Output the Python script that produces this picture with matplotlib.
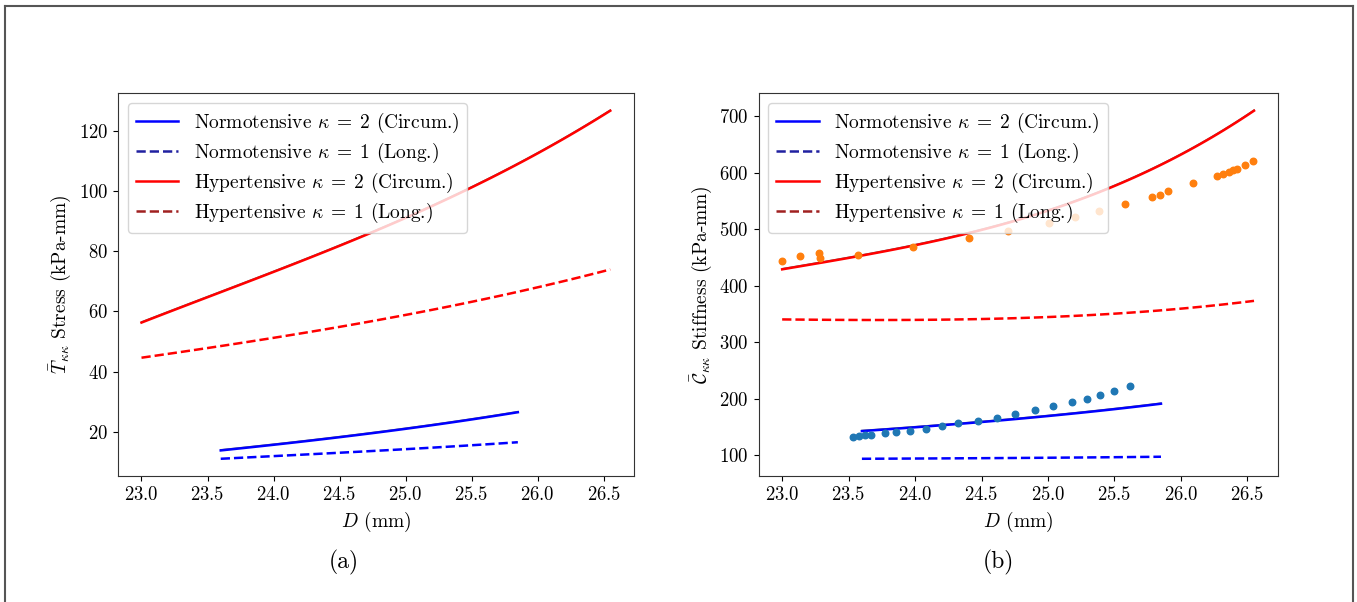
import numpy as np
import matplotlib
matplotlib.use("Agg")
from matplotlib import pyplot as plt
from matplotlib.lines import Line2D
import matplotlib.transforms as mtransforms

plt.rcParams['font.family'] = 'serif'
plt.rcParams['font.serif'] = ['cmr10', 'DejaVu Serif']
plt.rcParams['mathtext.fontset'] = 'cm'
plt.rcParams['axes.formatter.use_mathtext'] = True

# --- (a) stress curves ---
D_normo = [23.6, 24.0, 24.5, 25.0, 25.5, 25.85]
T_normo_circ = [13.8, 15.6, 18.2, 21.0, 24.0, 26.5]
T_normo_long = [11.0, 11.9, 13.0, 14.2, 15.5, 16.5]

D_hyper = [23.0, 23.5, 24.0, 24.5, 25.0, 25.5, 26.0, 26.55]
T_hyper_circ = [56.0, 65.3, 72.8, 81.8, 90.9, 100.8, 113.2, 126.4]
T_hyper_long = [44.4, 48.2, 51.2, 54.5, 58.8, 63.2, 68.2, 73.8]

# --- (b) stiffness curves ---
C_normo_circ = [142.6, 148.6, 159.0, 169.0, 181.0, 191.0]
C_normo_long = [93.4, 93.8, 94.5, 95.2, 96.2, 97.0]
C_hyper_circ = [429.6, 447.0, 473.0, 497.0, 536.0, 574.0, 632.0, 710.0]
C_hyper_long = [340.0, 339.5, 339.5, 340.5, 344.0, 351.0, 359.0, 373.0]

# --- (b) scattered data points ---
D_pts_hyper = [23.0, 23.136, 23.278, 23.285, 23.57, 23.983, 24.404, 24.70, 25.01,
               25.2, 25.38, 25.58, 25.78, 25.84, 25.90, 26.09, 26.27, 26.32,
               26.36, 26.39, 26.42, 26.48, 26.54]
C_pts_hyper = [443.8, 453.3, 457.4, 449.1, 455.0, 468.0, 484.0, 496.0, 510.7,
               521.0, 532.0, 545.0, 557.4, 561.0, 566.9, 581.7, 594.0, 597.0,
               600.6, 604.0, 606.0, 614.0, 620.0]
D_pts_normo = [23.53, 23.58, 23.626, 23.67, 23.77, 23.86, 23.96, 24.08, 24.20,
               24.32, 24.47, 24.62, 24.75, 24.90, 25.04, 25.18, 25.29, 25.39,
               25.50, 25.62]
C_pts_normo = [132.0, 133.0, 135.0, 135.0, 139.6, 140.8, 142.6, 146.8, 152.0,
               156.0, 161.0, 166.0, 172.0, 179.3, 186.4, 194.0, 199.4, 206.5,
               213.6, 223.0]

labels = [r'Normotensive $\kappa\;=\;2$ (Circum.)',
          r'Normotensive $\kappa\;=\;1$ (Long.)',
          r'Hypertensive $\kappa\;=\;2$ (Circum.)',
          r'Hypertensive $\kappa\;=\;1$ (Long.)']


def smooth(x, y, n=80):
    # cubic through the read-off points, just for a clean curve
    p = np.polyfit(x, y, 3)
    xs = np.linspace(x[0], x[-1], n)
    return xs, np.polyval(p, xs)


def draw_curve(ax, fig, x, y, color, ls):
    xs, ys = smooth(x, y)
    if ls == '-':
        # thin dark edge on top of the coloured line, like the scanned original
        shift = mtransforms.offset_copy(ax.transData, fig=fig, x=0, y=0.5, units='points')
        ax.plot(xs, ys, color='k', ls=ls, lw=1.0, alpha=0.6, transform=shift)
    ax.plot(xs, ys, color=color, ls=ls, lw=1.8)


fig = plt.figure(figsize=(13.57, 6.02), dpi=100)
ax1 = fig.add_axes([0.087, 0.209, 0.380, 0.636])
ax2 = fig.add_axes([0.559, 0.209, 0.3825, 0.636])

draw_curve(ax1, fig, D_normo, T_normo_circ, 'blue', '-')
draw_curve(ax1, fig, D_normo, T_normo_long, 'blue', '--')
draw_curve(ax1, fig, D_hyper, T_hyper_circ, 'red', '-')
draw_curve(ax1, fig, D_hyper, T_hyper_long, 'red', '--')

draw_curve(ax2, fig, D_normo, C_normo_circ, 'blue', '-')
draw_curve(ax2, fig, D_normo, C_normo_long, 'blue', '--')
draw_curve(ax2, fig, D_hyper, C_hyper_circ, 'red', '-')
draw_curve(ax2, fig, D_hyper, C_hyper_long, 'red', '--')
ax2.scatter(D_pts_normo, C_pts_normo, s=22, color='#1f77b4', zorder=3)
ax2.scatter(D_pts_hyper, C_pts_hyper, s=22, color='#ff7f0e', zorder=3)

handles = [Line2D([], [], color='blue', ls='-', lw=1.8),
           Line2D([], [], color='#2020a0', ls='--', lw=1.8),
           Line2D([], [], color='red', ls='-', lw=1.8),
           Line2D([], [], color='#a02020', ls='--', lw=1.8)]

for ax, ylab in [(ax1, r'$\bar{T}_{\kappa\kappa}$ Stress (kPa-mm)'),
                 (ax2, r'$\bar{\mathcal{C}}_{\kappa\kappa}$ Stiffness (kPa-mm)')]:
    ax.set_xticks([23.0, 23.5, 24.0, 24.5, 25.0, 25.5, 26.0, 26.5])
    ax.tick_params(labelsize=13.5)
    ax.set_xlabel(r'$D$ (mm)', fontsize=14)
    ax.set_ylabel(ylab, fontsize=14)
    ax.legend(handles, labels, loc='upper left', fontsize=14, labelspacing=0.3,
              handlelength=2.2)
    for sp in ax.spines.values():
        sp.set_color('#333333')

ax1.set_yticks([20, 40, 60, 80, 100, 120])
ax2.set_yticks([100, 200, 300, 400, 500, 600, 700])

fig.text(0.2535, 0.065, '(a)', fontsize=17, ha='center', va='center')
fig.text(0.736, 0.065, '(b)', fontsize=17, ha='center', va='center')

# page frame around the figure
for xs, ys in [([0.004, 0.997], [0.990, 0.990]),
               ([0.004, 0.004], [0.0, 0.990]),
               ([0.997, 0.997], [0.0, 0.990])]:
    fig.add_artist(Line2D(xs, ys, color='#555555', lw=1.5, transform=fig.transFigure))

fig.savefig('out.png', dpi=100)
